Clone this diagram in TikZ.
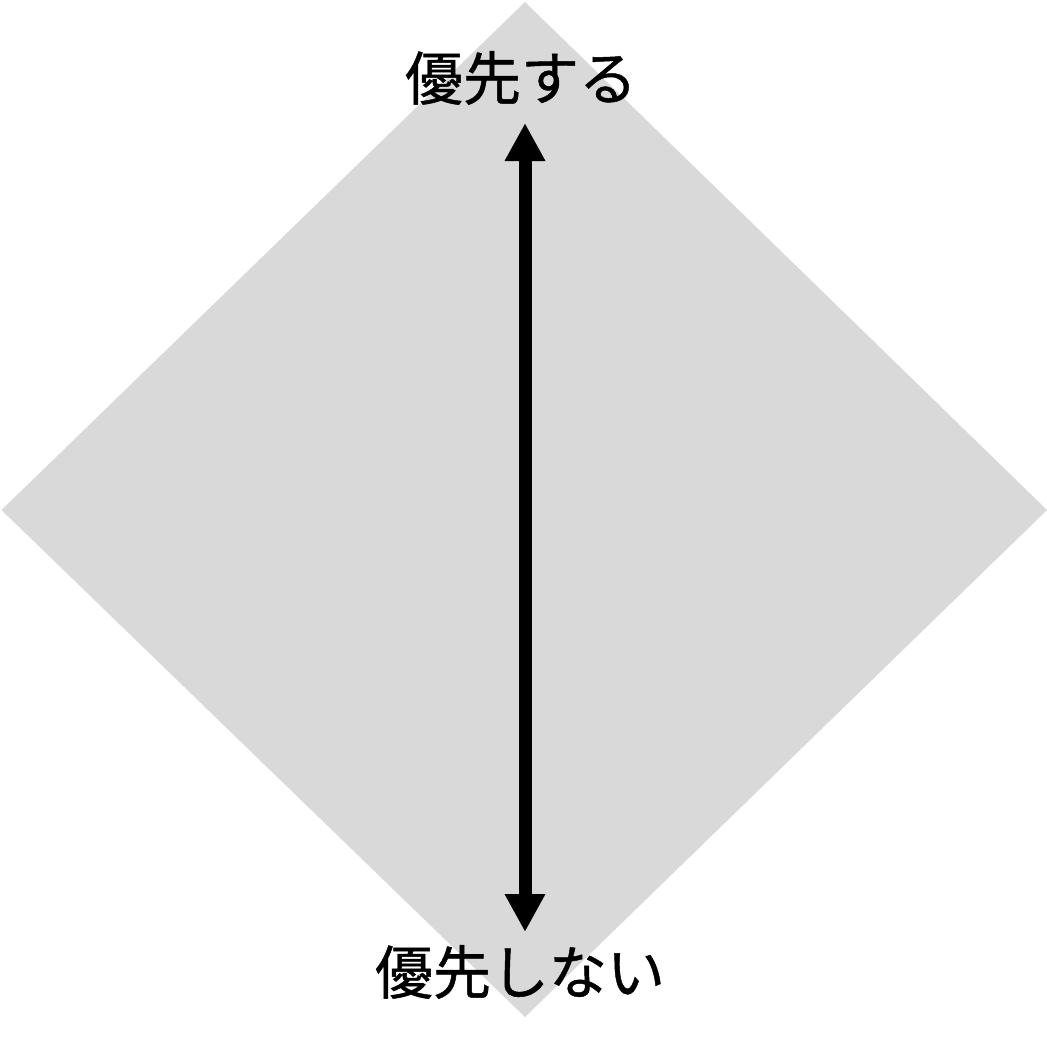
\documentclass[tikz,border=0pt]{standalone}
\usepackage{fontspec}
\newfontfamily\jpfont[FakeBold=0.8]{Noto Sans CJK JP}
\usetikzlibrary{arrows.meta}
\definecolor{diamondgray}{HTML}{D9D9D9}
\tikzset{
  label text/.style={font=\jpfont\fontsize{58}{68}\selectfont, text=black, inner sep=0pt},
  bigarrow/.style={line width=13pt, {Triangle[width=38pt,length=38pt]}-{Triangle[width=38pt,length=38pt]}}
}
\begin{document}
\begin{tikzpicture}[x=1pt,y=-1pt]
\useasboundingbox (0,0) rectangle (1047,1045);
\fill[diamondgray] (525,2) -- (1047,510) -- (525,1017) -- (1.5,510) -- cycle;
\node[label text] (top) at (521,78) {優先する};
\node[label text] (bottom) at (520,972) {優先しない};
\coordinate (tip1) at (525,123);
\coordinate (tip2) at (525,932);
\draw[bigarrow] (tip1) -- (tip2);
\end{tikzpicture}
\end{document}
